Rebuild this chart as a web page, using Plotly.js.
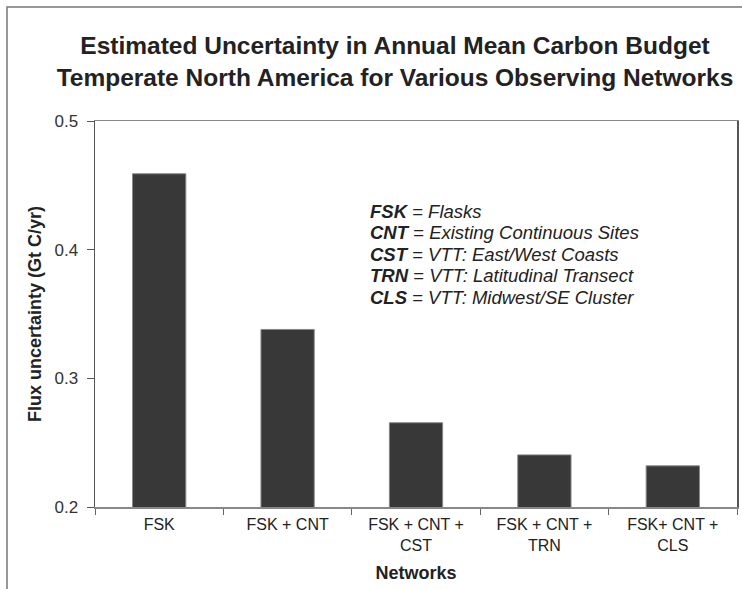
<!DOCTYPE html>
<html>
<head>
<meta charset="utf-8">
<script src="https://cdn.plot.ly/plotly-3.0.1.min.js"></script>
<style>html,body{margin:0;padding:0;background:#fff;}#chart{width:742px;height:589px;}</style>
</head>
<body>
<div id="chart"></div>
<script>
var categories = ['FSK', 'FSK + CNT', 'FSK + CNT +<br>CST', 'FSK + CNT +<br>TRN', 'FSK+ CNT +<br>CLS'];
var uncertainty = [0.459, 0.338, 0.2655, 0.2405, 0.232];
var yTicks = [0.2, 0.3, 0.4, 0.5];
var yTickLabels = ['0.2', '0.3', '0.4', '0.5'];
var legendAbbr = ['FSK', 'CNT', 'CST', 'TRN', 'CLS'];
var legendDesc = ['Flasks', 'Existing Continuous Sites', 'VTT: East/West Coasts', 'VTT: Latitudinal Transect', 'VTT: Midwest/SE Cluster'];

var FONT = 'Liberation Sans, Arial, Helvetica, sans-serif';
var plotTop = 121, plotBottom = 507, plotLeft = 95, plotRight = 737;
function py(p) { return (plotBottom - p) / (plotBottom - plotTop); }
function px(p) { return (p - plotLeft) / (plotRight - plotLeft); }

var legendY = [211, 232, 254, 275, 297];
var annotations = legendAbbr.map(function (a, i) {
  return {
    xref: 'paper', yref: 'paper', x: px(368), y: py(legendY[i]),
    xanchor: 'left', yanchor: 'middle', showarrow: false,
    text: '<b><i>' + a + '</i></b> = <i>' + legendDesc[i] + '</i>',
    font: {family: FONT, size: 18.5, color: '#222'}
  };
});

var trace = {
  type: 'bar', x: categories, y: uncertainty,
  marker: {color: '#383838', line: {color: '#888', width: 1}},
  hoverinfo: 'none'
};

var layout = {
  width: 742, height: 589,
  margin: {l: plotLeft, r: 742 - plotRight, t: plotTop, b: 589 - plotBottom},
  paper_bgcolor: '#fff', plot_bgcolor: '#fff',
  showlegend: false,
  bargap: 0.585,
  font: {family: FONT, color: '#222'},
  title: {
    text: '<b>Estimated Uncertainty in Annual Mean Carbon Budget<br>Temperate North America for Various Observing Networks</b>',
    font: {family: FONT, size: 24.5, color: '#222'},
    xref: 'paper', x: px(395), xanchor: 'center',
    yref: 'container', y: 1 - 54 / 589, yanchor: 'top'
  },
  xaxis: {
    type: 'category',
    showline: true, linecolor: '#888', linewidth: 1.5, mirror: true,
    ticks: 'outside', tickson: 'boundaries', ticklen: 6, tickcolor: '#666',
    tickfont: {family: FONT, size: 16, color: '#222'},
    ticklabelstandoff: 2,
    showgrid: false, zeroline: false,
    title: {text: '<b>Networks</b>', font: {family: FONT, size: 18, color: '#222'}, standoff: 14}
  },
  yaxis: {
    range: [0.2, 0.5], tickvals: yTicks, ticktext: yTickLabels,
    showline: true, linecolor: '#555', linewidth: 1.5, mirror: true,
    ticks: 'outside', ticklen: 7, tickcolor: '#555',
    tickfont: {family: FONT, size: 17, color: '#333'},
    ticklabelstandoff: 5,
    showgrid: false, zeroline: false,
    title: {text: '<b>Flux uncertainty (Gt C/yr)</b>', font: {family: FONT, size: 18, color: '#222'}, standoff: 8}
  },
  annotations: annotations,
  shapes: [
    {type: 'path', xref: 'paper', yref: 'paper',
     path: 'M ' + px(7) + ',' + py(595) + ' L ' + px(7) + ',' + py(7) + ' L ' + px(760) + ',' + py(7),
     line: {color: '#777', width: 1.5}}
  ]
};

Plotly.newPlot('chart', [trace], layout, {displayModeBar: false, staticPlot: true});
</script>
</body>
</html>
